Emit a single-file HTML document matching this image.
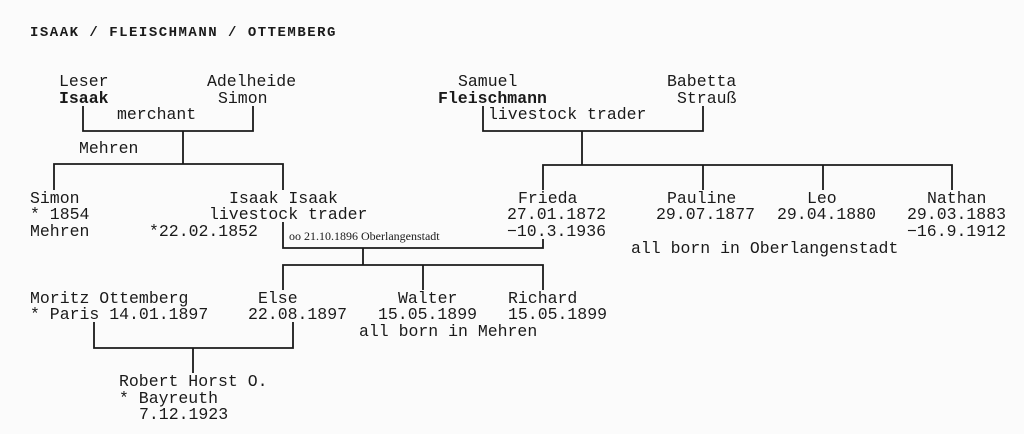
<!DOCTYPE html>
<html><head><meta charset="utf-8"><style>
html,body{margin:0;padding:0;background:#fbfbfb;}
svg{display:block}
text{font-family:"Liberation Mono",monospace;font-size:16.5px;fill:#1a1a1a}
.b{font-weight:bold}
.s{font-family:"Liberation Serif",serif;font-size:12px}
</style></head><body>
<svg width="1024" height="434" viewBox="0 0 1024 434" xmlns="http://www.w3.org/2000/svg">
<g stroke="#1a1a1a" stroke-width="1.8" fill="none">
<polyline points="83,106 83,131 253,131 253,106"/>
<line x1="183" y1="131" x2="183" y2="164"/>
<polyline points="54,190 54,164 283,164 283,190"/>
<polyline points="483,106 483,131 703,131 703,106"/>
<line x1="582" y1="131" x2="582" y2="165"/>
<polyline points="543,190 543,165 952,165 952,190"/>
<line x1="703" y1="165" x2="703" y2="190"/>
<line x1="823" y1="165" x2="823" y2="190"/>
<polyline points="283,222 283,248 543,248 543,239"/>
<line x1="363" y1="248" x2="363" y2="265"/>
<polyline points="283,290 283,265 543,265 543,290"/>
<line x1="423" y1="265" x2="423" y2="290"/>
<polyline points="94,322 94,348 293,348 293,322"/>
<line x1="193" y1="348" x2="193" y2="373"/>
</g>
<text class="b" x="30" y="36" style="font-size:14px;letter-spacing:1.5px">ISAAK / FLEISCHMANN / OTTEMBERG</text>
<text x="59" y="86">Leser</text>
<text class="b" x="59" y="103">Isaak</text>
<text x="207" y="86">Adelheide</text>
<text x="218" y="103">Simon</text>
<text x="117" y="119">merchant</text>
<text x="79" y="153">Mehren</text>
<text x="30" y="203">Simon</text>
<text x="30" y="219">* 1854</text>
<text x="30" y="236">Mehren</text>
<text x="229" y="203">Isaak Isaak</text>
<text x="209" y="219">livestock trader</text>
<text x="149" y="236">*22.02.1852</text>
<text class="s" x="289" y="240">oo 21.10.1896 Oberlangenstadt</text>
<text x="458" y="86">Samuel</text>
<text class="b" x="438" y="103">Fleischmann</text>
<text x="667" y="86">Babetta</text>
<text x="677" y="103">Strauß</text>
<text x="488" y="119">livestock trader</text>
<text x="518" y="203">Frieda</text>
<text x="507" y="219">27.01.1872</text>
<text x="507" y="236">−10.3.1936</text>
<text x="667" y="203">Pauline</text>
<text x="656" y="219">29.07.1877</text>
<text x="807" y="203">Leo</text>
<text x="777" y="219">29.04.1880</text>
<text x="927" y="203">Nathan</text>
<text x="907" y="219">29.03.1883</text>
<text x="907" y="236">−16.9.1912</text>
<text x="631" y="253">all born in Oberlangenstadt</text>
<text x="30" y="303">Moritz Ottemberg</text>
<text x="30" y="319">* Paris 14.01.1897</text>
<text x="258" y="303">Else</text>
<text x="248" y="319">22.08.1897</text>
<text x="398" y="303">Walter</text>
<text x="378" y="319">15.05.1899</text>
<text x="508" y="303">Richard</text>
<text x="508" y="319">15.05.1899</text>
<text x="359" y="336">all born in Mehren</text>
<text x="119" y="386">Robert Horst O.</text>
<text x="119" y="403">* Bayreuth</text>
<text x="139" y="419">7.12.1923</text>
</svg>
</body></html>
